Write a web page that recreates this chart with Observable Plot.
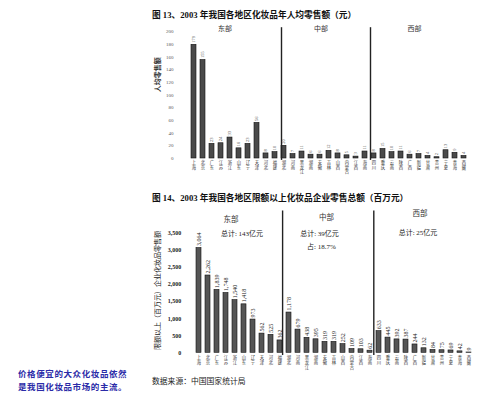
<!DOCTYPE html>
<html><head><meta charset="utf-8">
<script src="https://cdn.jsdelivr.net/npm/d3@7"></script>
<script src="https://cdn.jsdelivr.net/npm/@observablehq/plot@0.6"></script>
<style>
html,body{margin:0;padding:0;background:#fff;}
#root{position:relative;width:499px;height:394px;overflow:hidden;font-family:"Liberation Serif","Noto Sans CJK SC",serif;}
.t{position:absolute;white-space:nowrap;line-height:1;}
.plot{position:absolute;left:0;}
</style></head><body>
<div id="root"></div>
<script>
const provinces = ["上海","北京","广东","江苏","浙江","山东","辽宁","天津","河北","福建",
  "湖北","河南","黑龙江","湖南","安徽","吉林","山西","内蒙古","江西","海南",
  "四川","重庆","云南","陕西","广西","新疆","甘肃","贵州","宁夏","青海","西藏"];
const perCapita = [179,155,23,24,33,16,23,56,8,10,
  20,7,11,6,6,12,8,5,3,11,
  8,15,10,11,6,7,4,2,13,9,4];
const retailTotal = [3064,2262,1839,1748,1540,1418,973,562,525,362,
  1178,679,438,395,319,319,252,109,103,62,
  633,445,392,387,244,132,84,75,69,42,9];
const regionNames = ["东部","中部","西部"];
const regionTotals = ["总计: 143亿元","总计: 39亿元","总计: 25亿元"];
const centralShare = "占: 18.7%";
const yTicks13 = [0,20,40,60,80,100,120,140,160,180,200];
const yTicks14 = [0,500,1000,1500,2000,2500,3000,3500];
const title13 = "图 13、2003 年我国各地区化妆品年人均零售额（元）";
const title14 = "图 14、2003 年我国各地区限额以上化妆品企业零售总额（百万元）";
const yLabel13 = "人均零售额";
const yLabel14 = "限额以上（百万元）企业化妆品零售额";
const source = "数据来源：中国国家统计局";
const note = ["价格便宜的大众化妆品依然","是我国化妆品市场的主流。"];

const FF = '"Liberation Serif","Noto Sans CJK SC",serif';
const root = document.getElementById("root");
function addText(txt, css){ const d=document.createElement("div"); d.className="t"; d.textContent=txt; Object.assign(d.style, css); root.appendChild(d); return d; }

const data = provinces.map((p,i)=>({p, v: perCapita[i], s: retailTotal[i]}));
const vert = d => d.split("").join("\n");

// ---------- Figure 13 ----------
const p13 = Plot.plot({
  width: 499, height: 180,
  marginLeft: 177.1, marginRight: 19, marginTop: 31, marginBottom: 22,
  style: {fontFamily: FF, background: "transparent", overflow: "visible", color: "#222"},
  x: {domain: provinces, paddingInner: 0.49, paddingOuter: 0.245},
  y: {domain: [0, 200]},
  marks: [
    Plot.axisY({ticks: yTicks13, tickSize: 0, tickPadding: 4, fontSize: 5, fill: "#555", label: null}),
    Plot.axisX({tickSize: 0, tickPadding: 2, fontSize: 4.3, fill: "#333", tickFormat: vert, lineHeight: 1.1, label: null}),
    Plot.barY(data, {x: "p", y: "v", fill: "#4a4a4a", stroke: "#111", strokeWidth: 0.6}),
    Plot.text(data, {x: "p", y: "v", text: d => String(d.v), rotate: -90, textAnchor: "start", lineAnchor: "middle", dy: -2, fontSize: 4.5, fill: "#444"}),
    Plot.ruleX([provinces[9]], {dx: 6.5, y1: -3, y2: 206, stroke: "#222", strokeWidth: 1.4}),
    Plot.ruleX([provinces[19]], {dx: 5.5, y1: -3, y2: 206, stroke: "#222", strokeWidth: 1.4}),
    Plot.text([regionNames[0]], {x: () => provinces[3], y: 204, dx: 4, fontSize: 7, fill: "#333", fontFamily: '"Noto Sans CJK SC"'}),
    Plot.text([regionNames[1]], {x: () => provinces[14], y: 204, dx: 1, fontSize: 7, fill: "#333", fontFamily: '"Noto Sans CJK SC"'}),
    Plot.text([regionNames[2]], {x: () => provinces[24], y: 204, dx: 4.5, fontSize: 7, fill: "#333", fontFamily: '"Noto Sans CJK SC"'}),
    Plot.text([yLabel13], {frameAnchor: "left", y: 132, dx: -20, rotate: -90, textAnchor: "middle", fontSize: 7, fill: "#333", fontFamily: '"Noto Sans CJK SC"', fontWeight: 700})
  ]
});
p13.classList.add("plot"); p13.style.top = "0px";
root.appendChild(p13);

// ---------- Figure 14 ----------
const p14 = Plot.plot({
  width: 499, height: 214,
  marginLeft: 186.8, marginRight: 19.9, marginTop: 52.7, marginBottom: 41.7,
  style: {fontFamily: FF, background: "transparent", overflow: "visible", color: "#222"},
  x: {domain: provinces, paddingInner: 0.47, paddingOuter: 0.235},
  y: {domain: [0, 3500]},
  marks: [
    Plot.axisY({ticks: yTicks14, tickFormat: d3.format(","), tickSize: 0, tickPadding: 6, fontSize: 6, fontWeight: 700, fill: "#222", label: null}),
    Plot.axisX({tickSize: 0, tickPadding: 3, fontSize: 4.3, fill: "#333", tickFormat: vert, lineHeight: 1.1, label: null}),
    Plot.barY(data, {x: "p", y: "s", fill: "#555", stroke: "#111", strokeWidth: 0.6}),
    Plot.text(data, {x: "p", y: "s", text: d => d3.format(",")(d.s), rotate: -90, textAnchor: "start", lineAnchor: "middle", dy: -2, fontSize: 6, fill: "#222"}),
    Plot.ruleX([provinces[9]], {dx: 2.6, y1: -80, y2: 4150, stroke: "#222", strokeWidth: 1.4}),
    Plot.ruleX([provinces[19]], {dx: 3.8, y1: -80, y2: 4150, stroke: "#222", strokeWidth: 1.4}),
    Plot.text([regionNames[0]], {x: () => provinces[3], y: 3900, dx: 5, fontSize: 7.5, fill: "#333", fontFamily: '"Noto Sans CJK SC"'}),
    Plot.text([regionNames[1]], {x: () => provinces[14], y: 3960, dx: 1.5, fontSize: 7.5, fill: "#333", fontFamily: '"Noto Sans CJK SC"'}),
    Plot.text([regionNames[2]], {x: () => provinces[24], y: 4080, dx: 5, fontSize: 7.5, fill: "#333", fontFamily: '"Noto Sans CJK SC"'}),
    Plot.text([regionTotals[0]], {x: () => provinces[4], y: 3490, dx: 7, fontSize: 7, fill: "#222"}),
    Plot.text([regionTotals[1]], {x: () => provinces[13], y: 3490, dx: 3.5, fontSize: 7, fill: "#222"}),
    Plot.text([centralShare], {x: () => provinces[13], y: 3110, dx: 5.5, fontSize: 7, fill: "#222"}),
    Plot.text([regionTotals[2]], {x: () => provinces[24], y: 3510, dx: 3, fontSize: 7, fill: "#222"}),
    Plot.text([yLabel14], {frameAnchor: "left", y: 1823, dx: -29.8, rotate: -90, textAnchor: "middle", fontSize: 7, fill: "#222", fontFamily: '"Noto Sans CJK SC"'})
  ]
});
p14.classList.add("plot"); p14.style.top = "180px";
root.appendChild(p14);

// ---------- Titles & notes ----------
const titleCss = {fontSize: "8.7px", fontWeight: "700", color: "#111", left: "152px"};
addText(title13, Object.assign({}, titleCss, {top: "10.5px"}));
addText(title14, Object.assign({}, titleCss, {top: "193.5px"}));
addText(source, {left: "152px", top: "377px", fontSize: "7.8px", color: "#222", fontFamily: '"Noto Sans CJK SC"'});
addText(note[0], {left: "18px", top: "369px", fontSize: "8.5px", letterSpacing: "0.6px", color: "#2b2ba8", fontWeight: "700", fontFamily: '"Noto Sans CJK SC"'});
addText(note[1], {left: "18px", top: "382px", fontSize: "8.5px", letterSpacing: "0.6px", color: "#2b2ba8", fontWeight: "700", fontFamily: '"Noto Sans CJK SC"'});
</script>
</body></html>
